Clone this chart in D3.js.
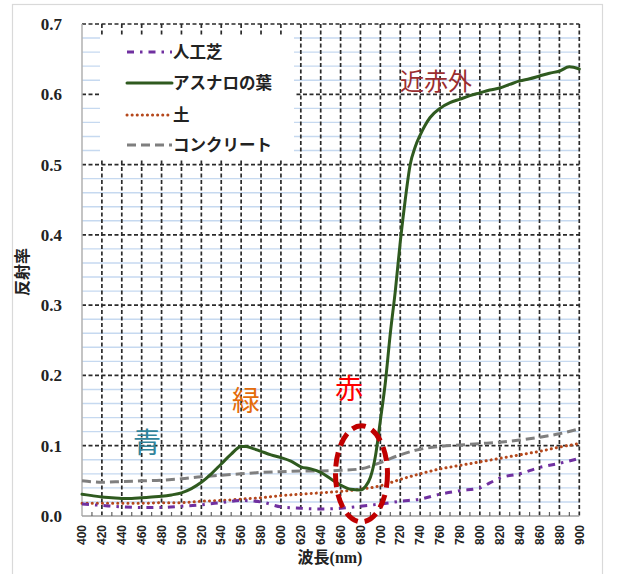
<!DOCTYPE html>
<html><head><meta charset="utf-8">
<script src="https://cdn.jsdelivr.net/npm/d3@7/dist/d3.min.js"></script>
<style>body{margin:0;background:#fff}svg{display:block}</style>
</head><body>
<svg id="chart" width="617" height="574"></svg>
<script>
// ---- data ----
const seriesNames = ["人工芝", "アスナロの葉", "土", "コンクリート"];
const turfX = [400,420,440,460,480,500,520,540,560,580,600,620,640,660,680,700,720,740,760,780,800,810,820,840,860,880,900];
const turfY = [0.017,0.015,0.013,0.012,0.012,0.014,0.016,0.019,0.022,0.020,0.013,0.011,0.010,0.011,0.014,0.017,0.021,0.024,0.031,0.036,0.040,0.047,0.054,0.060,0.069,0.075,0.082];
const leafX = [400,410,420,430,440,450,460,470,480,490,500,510,520,530,540,550,560,565,570,580,590,600,610,620,630,640,650,660,670,680,685,690,695,700,705,710,715,720,725,730,735,740,750,760,770,780,790,800,810,820,830,840,850,860,870,880,890,900];
const leafY = [0.031,0.029,0.027,0.026,0.025,0.025,0.026,0.027,0.028,0.030,0.033,0.039,0.048,0.060,0.074,0.088,0.099,0.099,0.097,0.092,0.087,0.083,0.078,0.070,0.067,0.062,0.053,0.044,0.038,0.037,0.042,0.055,0.085,0.136,0.190,0.260,0.320,0.390,0.450,0.500,0.525,0.542,0.567,0.580,0.588,0.593,0.598,0.602,0.606,0.609,0.614,0.619,0.622,0.626,0.630,0.633,0.639,0.636];
const soilX = [400,420,440,460,480,500,520,540,560,580,600,620,640,660,680,700,720,740,760,780,800,820,840,860,880,900];
const soilY = [0.018,0.018,0.018,0.018,0.019,0.019,0.021,0.022,0.024,0.026,0.029,0.031,0.033,0.035,0.038,0.043,0.052,0.060,0.067,0.072,0.077,0.082,0.087,0.092,0.098,0.103];
const concX = [400,420,440,460,480,500,520,540,560,580,600,620,640,660,680,700,720,740,760,780,800,820,840,860,880,900];
const concY = [0.050,0.048,0.049,0.050,0.051,0.053,0.056,0.058,0.060,0.062,0.063,0.064,0.064,0.065,0.067,0.076,0.087,0.095,0.099,0.101,0.103,0.105,0.108,0.112,0.117,0.124];
const xTicks = d3.range(400, 901, 20);
const yTicks = [0.0,0.1,0.2,0.3,0.4,0.5,0.6,0.7];
const xTitle = "波長(nm)";
const yTitle = "反射率";
const bandLabels = ["青", "緑", "赤", "近赤外"];

// ---- layout ----
const svg = d3.select("#chart");
const L = 82, R = 579.3, T = 24, B = 516;
const x = d3.scaleLinear().domain([400, 900]).range([L, R]);
const y = d3.scaleLinear().domain([0, 0.7]).range([B, T]);

// outer frame
svg.append("rect").attr("x", 12.5).attr("y", 4.5).attr("width", 590).attr("height", 600)
  .attr("fill", "#fff").attr("stroke", "#d9d9d9").attr("stroke-width", 1.2);

// minor horizontal grid (light blue)
const minorY = d3.range(0.02, 0.7, 0.02).filter(v => Math.abs(v*10 - Math.round(v*10)) > 1e-6);
svg.append("g").selectAll("line").data(minorY).join("line")
  .attr("x1", L).attr("x2", R).attr("y1", d => y(d)).attr("y2", d => y(d))
  .attr("stroke", "#c6d9f0").attr("stroke-width", 1.4);

// major vertical grid
svg.append("g").selectAll("line").data(xTicks.slice(1)).join("line")
  .attr("x1", d => x(d)).attr("x2", d => x(d)).attr("y1", T).attr("y2", B)
  .attr("stroke", "#2a2a2a").attr("stroke-width", 1.7).attr("stroke-dasharray", "4 2.5");
// major horizontal grid
svg.append("g").selectAll("line").data(yTicks.slice(1)).join("line")
  .attr("x1", L).attr("x2", R).attr("y1", d => y(d)).attr("y2", d => y(d))
  .attr("stroke", "#2a2a2a").attr("stroke-width", 1.7).attr("stroke-dasharray", "4 2.5");

// axes lines
svg.append("line").attr("x1", L).attr("x2", L).attr("y1", T).attr("y2", B).attr("stroke", "#b0b0b0").attr("stroke-width", 1.5);
svg.append("line").attr("x1", L).attr("x2", R).attr("y1", B).attr("y2", B).attr("stroke", "#a0a0a0").attr("stroke-width", 1.5);
// minor ticks on bottom axis
svg.append("g").selectAll("line").data(d3.range(410, 900, 20)).join("line")
  .attr("x1", d => x(d)).attr("x2", d => x(d)).attr("y1", B).attr("y2", B - 4)
  .attr("stroke", "#606060").attr("stroke-width", 1.2);

// tick labels
svg.append("g").selectAll("text").data(yTicks).join("text")
  .attr("x", 62).attr("y", d => y(d)).attr("dy", "0.35em").attr("text-anchor", "end")
  .attr("font-family", "'Liberation Serif', serif").attr("font-weight", "bold").attr("font-size", 17)
  .attr("fill", "#222").text(d => d.toFixed(1));
svg.append("g").selectAll("text").data(xTicks).join("text")
  .attr("transform", d => `translate(${x(d)},525) rotate(-90)`)
  .attr("dy", "0.35em").attr("text-anchor", "end")
  .attr("font-family", "'Liberation Sans', Arial, sans-serif").attr("font-weight", "bold").attr("font-size", 12)
  .attr("fill", "#222").text(d => d);

// axis titles
svg.append("text").attr("x", 330).attr("y", 563).attr("text-anchor", "middle")
  .attr("font-family", "'Liberation Serif', 'Noto Sans CJK JP', serif").attr("font-weight", "bold").attr("font-size", 16)
  .attr("fill", "#222").text(xTitle);
svg.append("text").attr("transform", "translate(22,272) rotate(-90)").attr("text-anchor", "middle").attr("dy", "0.35em")
  .attr("font-family", "'Noto Sans CJK JP', sans-serif").attr("font-weight", "bold").attr("font-size", 16)
  .attr("fill", "#222").text(yTitle);

// legend box
svg.append("rect").attr("x", 100).attr("y", 37).attr("width", 194).attr("height", 122).attr("fill", "#fff");

// series
const styles = [
  {c: "#7030a0", w: 3, dash: "7 6 2.5 6", cap: "butt"},
  {c: "#2f5a1f", w: 3, dash: null, cap: "round"},
  {c: "#b5481c", w: 3, dash: "0.1 5", cap: "round"},
  {c: "#7f7f7f", w: 3, dash: "9 5", cap: "butt"}
];
const data = [
  d3.zip(turfX, turfY), d3.zip(leafX, leafY), d3.zip(soilX, soilY), d3.zip(concX, concY)
];
const line = d3.line().x(d => x(d[0])).y(d => y(d[1])).curve(d3.curveMonotoneX);
const order = [3, 2, 0, 1];
order.forEach(i => {
  svg.append("path").datum(data[i]).attr("d", line).attr("fill", "none")
    .attr("stroke", styles[i].c).attr("stroke-width", styles[i].w)
    .attr("stroke-dasharray", styles[i].dash).attr("stroke-linecap", styles[i].cap)
    .attr("stroke-linejoin", "round");
});

// legend entries
const legY = [52, 83, 115, 145];
seriesNames.forEach((n, i) => {
  svg.append("line").attr("x1", 127).attr("x2", 172).attr("y1", legY[i]).attr("y2", legY[i])
    .attr("stroke", styles[i].c).attr("stroke-width", styles[i].w)
    .attr("stroke-dasharray", styles[i].dash).attr("stroke-linecap", styles[i].cap);
  svg.append("text").attr("x", 173).attr("y", legY[i]).attr("dy", "0.36em")
    .attr("font-family", "'Noto Sans CJK JP', sans-serif").attr("font-weight", "bold").attr("font-size", 16.5)
    .attr("fill", "#222").text(n);
});

// band annotations
const ann = [
  {t: bandLabels[0], x: 147, y: 443, c: "#31849b", s: 28},
  {t: bandLabels[1], x: 246, y: 401, c: "#e46c0a", s: 28},
  {t: bandLabels[2], x: 349, y: 389, c: "#ff0000", s: 28},
  {t: bandLabels[3], x: 436, y: 81, c: "#9b2d30", s: 24}
];
ann.forEach(a => {
  svg.append("text").attr("x", a.x).attr("y", a.y).attr("dy", "0.36em").attr("text-anchor", "middle")
    .attr("font-family", "'Noto Sans CJK JP', sans-serif").attr("font-size", a.s)
    .attr("fill", a.c).text(a.t);
});

// red dashed ellipse around 680 nm
svg.append("ellipse").attr("cx", x(681)).attr("cy", y(0.06)).attr("rx", 26).attr("ry", 48)
  .attr("fill", "none").attr("stroke", "#c00000").attr("stroke-width", 5).attr("stroke-dasharray", "14 7");
</script>
</body></html>
